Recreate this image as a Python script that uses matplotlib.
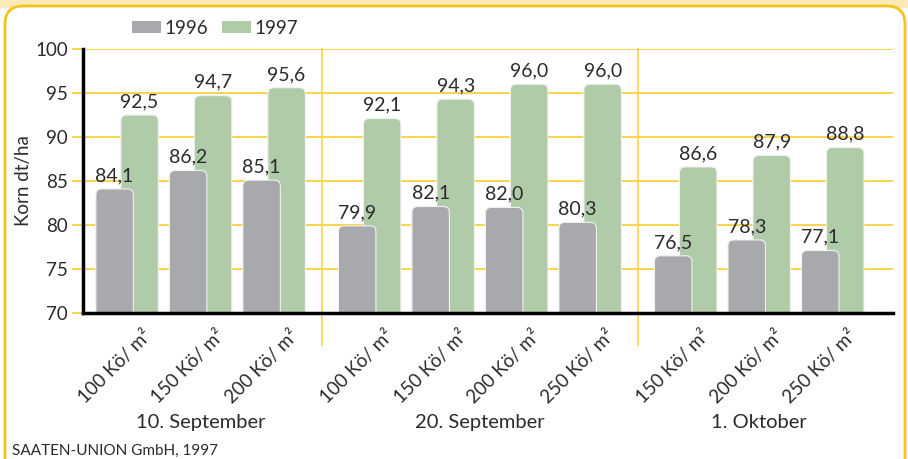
import numpy as np
import matplotlib
matplotlib.use("Agg")
import matplotlib.pyplot as plt
from matplotlib.patches import FancyBboxPatch, Rectangle, Patch

plt.rcParams['font.family'] = ['Lato', 'DejaVu Sans']

groups = ['10. September', '20. September', '1. Oktober']
labels = [['100 Kö/ m²', '150 Kö/ m²', '200 Kö/ m²'],
          ['100 Kö/ m²', '150 Kö/ m²', '200 Kö/ m²', '250 Kö/ m²'],
          ['150 Kö/ m²', '200 Kö/ m²', '250 Kö/ m²']]
y1996 = [84.1, 86.2, 85.1, 79.9, 82.1, 82.0, 80.3, 76.5, 78.3, 77.1]
y1997 = [92.5, 94.7, 95.6, 92.1, 94.3, 96.0, 96.0, 86.6, 87.9, 88.8]

gray = '#a8a9ad'
green = '#afcba8'
gold = '#fcd34a'
txt = '#2b2b2b'

# x positions: one unit per category, extra gap between groups
gap = 0.3
pos = []
x = 0.0
for gi, g in enumerate(labels):
    for j in range(len(g)):
        pos.append(x)
        x += 1
    x += gap
pos = np.array(pos)
w = 0.51
off = 0.34

fig = plt.figure(figsize=(9.08, 4.59), dpi=100)
fig.patch.set_facecolor('white')
fig.patches.append(Rectangle((0, 1 - 8 / 459), 1, 8 / 459, transform=fig.transFigure,
                             facecolor='#fde9b6', edgecolor='none', zorder=-3))
fig.patches.append(FancyBboxPatch((5 / 908, -0.1), 900 / 908, 1.1 - 6 / 459,
                                  boxstyle='round,pad=0,rounding_size=0.02',
                                  mutation_aspect=908 / 459,
                                  transform=fig.transFigure, facecolor='white',
                                  edgecolor='#f7c21a', linewidth=2, zorder=-2))

ax = fig.add_axes([83 / 908, (459 - 313) / 459, 810 / 908, 264 / 459])
ax.set_facecolor('none')
ax.set_ylim(70, 100)
ax.set_xlim(-0.43, pos[-1] + 0.99)

ax.set_yticks(np.arange(70, 101, 5))
ax.yaxis.grid(True, color=gold, linewidth=1.4)
ax.set_axisbelow(True)
ax.tick_params(axis='y', length=8, color=gold, width=1.4, labelsize=13.5, labelcolor=txt, pad=3)
for s in ['top', 'right']:
    ax.spines[s].set_visible(False)
ax.spines['left'].set_linewidth(2.5)
ax.spines['bottom'].set_linewidth(2.5)
ax.spines['left'].set_zorder(5)
ax.spines['bottom'].set_zorder(5)

# rounded bars, built from ax.bar geometry
x_px = 810 / (ax.get_xlim()[1] - ax.get_xlim()[0])
y_px = 264 / 30
aspect = x_px / y_px

def rounded(bars, color, z):
    for b in bars:
        b.set_visible(False)
        p = FancyBboxPatch((b.get_x(), 65), b.get_width(), b.get_height() + 5,
                           boxstyle='round,pad=0,rounding_size=0.08',
                           mutation_aspect=aspect, facecolor=color,
                           edgecolor='#f2f2f2', linewidth=0.8, zorder=z)
        ax.add_patch(p)

b97 = ax.bar(pos + off, np.array(y1997) - 70, w, bottom=70, color=green)
b96 = ax.bar(pos, np.array(y1996) - 70, w, bottom=70, color=gray)
rounded(b97, green, 2)
rounded(b96, gray, 3)

for xi, v in zip(pos, y1996):
    ax.text(xi, v + 0.55, f'{v:.1f}'.replace('.', ','), ha='center', va='bottom',
            fontsize=14, color=txt, zorder=6)
for xi, v in zip(pos + off, y1997):
    ax.text(xi, v + 0.55, f'{v:.1f}'.replace('.', ','), ha='center', va='bottom',
            fontsize=14, color=txt, zorder=6)

flat = [l for g in labels for l in g]
ax.set_xticks(pos + 0.38)
ax.set_xticklabels(flat, rotation=45, ha='right', rotation_mode='anchor',
                   fontsize=13.5, color=txt)
ax.tick_params(axis='x', length=0, pad=10)

# group separators and group names
starts = np.cumsum([0] + [len(g) for g in labels])
for k in range(1, len(labels)):
    xs = (pos[starts[k] - 1] + off + w / 2 + pos[starts[k]] - w / 2) / 2
    ax.plot([xs, xs], [100, 66.4], color=gold, linewidth=1.2, clip_on=False, zorder=1)
for k, g in enumerate(groups):
    xc = (pos[starts[k]] + pos[starts[k + 1] - 1]) / 2 + off / 2
    ax.text(xc, 57.6, g, ha='center', va='center', fontsize=14.5, color=txt)

ax.set_ylabel('Korn dt/ha', fontsize=13.5, color=txt, labelpad=2)

handles = [Patch(facecolor=gray, edgecolor='none', label='1996'),
           Patch(facecolor=green, edgecolor='none', label='1997')]
fig.legend(handles=handles, loc='center', bbox_to_anchor=(215 / 908, 1 - 28 / 459),
           ncol=2, frameon=False, fontsize=13.5, handlelength=1.55, handleheight=0.64,
           handletextpad=0.2, columnspacing=0.7, labelcolor=txt)

fig.text(12 / 908, 1 - 451 / 459, 'SAATEN-UNION GmbH, 1997', fontsize=11, color=txt,
         ha='left', va='center')

fig.savefig('out.png', dpi=100)
